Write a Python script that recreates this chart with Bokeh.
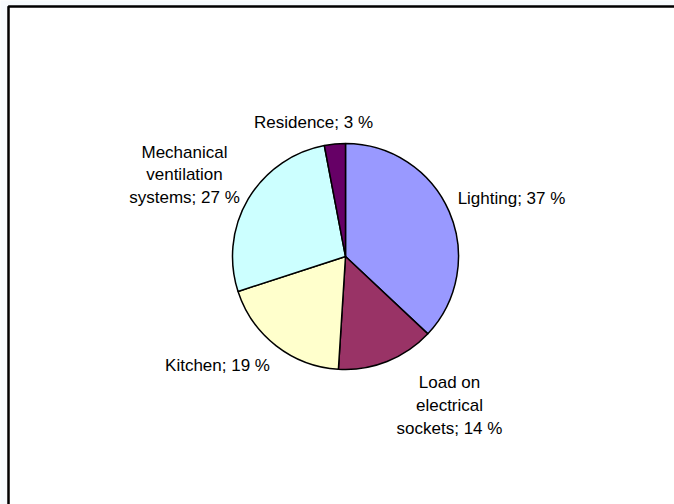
import numpy as np
from bokeh.plotting import figure
from bokeh.models import ColumnDataSource, Range1d, BoxAnnotation
from bokeh.core.properties import value
from bokeh.embed import file_html
from bokeh.resources import INLINE

# ---- data ----
categories = ["Lighting", "Load on electrical sockets", "Kitchen",
              "Mechanical ventilation systems", "Residence"]
shares = [37, 14, 19, 27, 3]
label_text = ["Lighting; 37 %", "Load on\nelectrical\nsockets; 14 %", "Kitchen; 19 %",
              "Mechanical\nventilation\nsystems; 27 %", "Residence; 3 %"]
colors = ["#9999FF", "#993366", "#FFFFCC", "#CCFFFF", "#660066"]

# ---- layout ----
W, H = 674, 504
cx, cy, R = 345, 248, 113
# label centres relative to pie centre (layout, pixels)
label_dx = [166, 104, -128, -161, -32]
label_dy = [58.5, -149, -108.5, 81.5, 134]

vals = np.array(shares, dtype=float)
frac = vals / vals.sum()
cum = np.concatenate([[0], np.cumsum(frac)])
start = np.pi / 2 - 2 * np.pi * cum[:-1]
end = np.pi / 2 - 2 * np.pi * cum[1:]

src = ColumnDataSource(dict(
    cat=categories, start=start, end=end, color=colors,
    x=[cx] * len(shares), y=[cy] * len(shares),
))
lab = ColumnDataSource(dict(
    text=label_text,
    x=[cx + d for d in label_dx],
    y=[cy + d for d in label_dy],
))

p = figure(width=W, height=H, output_backend="svg", toolbar_location=None,
           x_range=Range1d(0, W), y_range=Range1d(0, H), min_border=0)
p.axis.visible = False
p.grid.visible = False
p.outline_line_color = None
p.background_fill_color = "#F7FBFE"
p.border_fill_color = "#F7FBFE"

# chart area frame (left and top edges visible)
p.add_layout(BoxAnnotation(left=8, right=W + 20, bottom=-20, top=H - 6,
                           fill_color="white", fill_alpha=1.0,
                           line_color="black", line_alpha=1.0, line_width=2.5,
                           level="underlay"))

p.wedge(x="x", y="y", radius=R, start_angle="start", end_angle="end",
        direction="clock", fill_color="color", line_color="black",
        line_width=1.5, source=src)

p.text(x="x", y="y", text="text", source=lab, text_align="center",
       text_baseline="middle", text_font=value("Liberation Sans"),
       text_font_size="17px", text_color="black", text_line_height=1.2)

open("out.html", "w").write(file_html(p, INLINE))
